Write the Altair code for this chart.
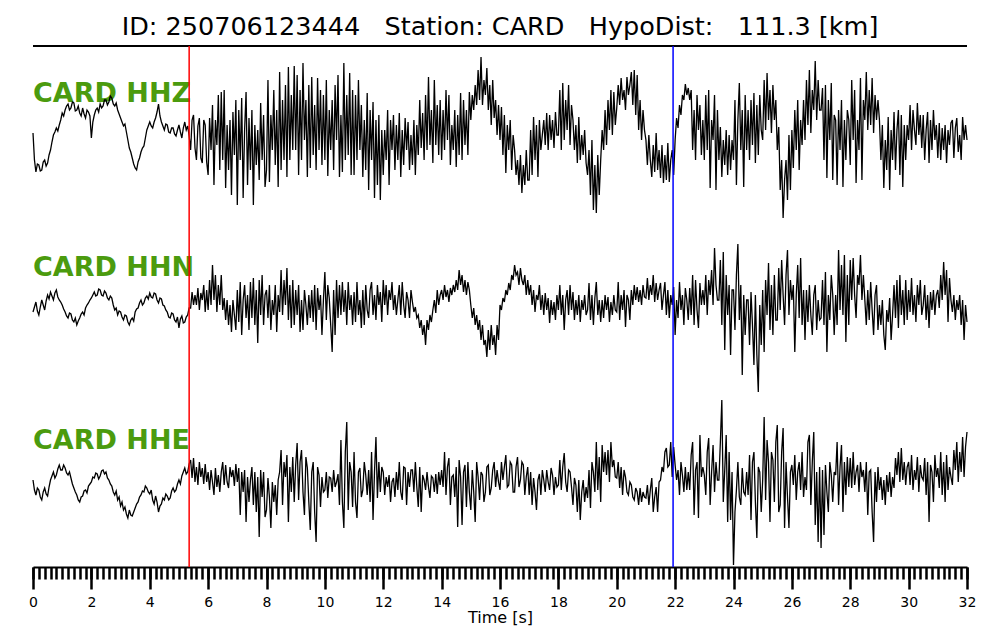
import altair as alt
import pandas as pd

NB = "\u00a0"
TITLE = f"ID: 250706123444{NB*3}Station: CARD{NB*3}HypoDist:{NB*3}111.3 [km]"
CHANNELS = ["CARD HHZ", "CARD HHN", "CARD HHE"]
SAMPLE_STEP = 0.05         # seconds between samples
P_PICK = 5.35              # s, red marker
S_PICK = 21.93             # s, blue marker
MAJOR_TICKS = list(range(0, 33, 2))
MINOR_TICKS = [round(i * 0.2, 1) for i in range(161)]
X_MAX = 32
Y_TOP = 521                # vertical extent of the stacked-trace axis
TRACE_BASE = [427, 262, 85]      # where each trace sits on the stacked axis
LABEL_LEVEL = [465, 291, 118]    # where each station label sits

# trace amplitudes (relative units), one sample every 0.05 s, 0 .. 32 s (one row per second)
HHZ = [
    7, -20, -32, -24, -25, -31, -30, -22, -20, -26, -23, -15, -10, -2, 5, 8, 12, 9, 15, 20,
    27, 24, 30, 34, 36, 30, 32, 38, 37, 29, 30, 34, 27, 24, 32, 26, 22, 30, 28, 24,
    2, 18, 25, 30, 32, 28, 36, 32, 34, 40, 40, 35, 38, 44, 42, 36, 34, 37, 30, 26,
    22, 18, 14, 16, 8, 0, -8, -12, -18, -24, -28, -30, -22, -18, -12, -8, -6, 2, 10, 14,
    18, 14, 12, 18, 22, 28, 36, 24, 18, 14, 10, 16, 15, 8, 7, 12, 12, 6, 4, 10,
    15, 8, 2, 12, 18, 10, 14, 4, -10, 20, 25, -8, -20, 14, 22, -18, -23, 20, 15, -22,
    -35, 22, -10, 35, -45, 20, -5, 45, -30, 48, -20, 50, -48, 15, -30, 20, -55, 28, -15, 40,
    -65, 30, -20, 42, -58, 10, 48, -45, 22, -30, 30, -65, 15, -25, 10, -40, 37, -20, 25, -47,
    -30, 60, -42, 25, -10, 50, -25, 30, -47, 68, -30, 40, -20, 55, -37, 73, -20, 45, -10, 74,
    -10, 65, -35, 50, -20, 77, 0, 40, -37, 55, -28, 63, -15, 35, -30, 62, -10, 50, -25, 45,
    -20, 60, -36, 30, -10, 40, -30, 55, 0, 65, -37, 25, -32, 77, -20, 45, -15, 67, -35, 50,
    -35, 45, -20, 60, -10, 35, -37, 20, -30, 47, -50, 30, -20, 38, -58, 20, -45, 25, -60, 10,
    -35, 10, -20, 30, -45, 20, -10, 25, -30, 15, -20, 27, -37, 10, -25, 22, -10, 18, -30, 5,
    -25, 20, -35, 15, -15, 40, -8, 27, -20, 45, -10, 63, -5, 30, -23, 60, -5, 35, -15, 40,
    -20, 30, -10, 50, 0, 45, -25, 15, -10, 30, -27, 25, -15, 47, -20, 40, -5, 30, -15, 48,
    20, 45, 30, 55, 35, 70, 40, 83, 35, 60, 45, 72, 30, 55, 15, 60, 22, 40, 5, 35,
    0, 33, -15, 25, -33, 15, -10, 20, -30, 5, -10, -35, -20, -45, -15, -53, -25, -45, -10, -40,
    -40, 10, -35, 23, -20, 15, -37, 20, -10, 5, 20, -5, 27, -10, 25, 0, 20, -8, 28, 5,
    5, 50, -10, 57, 0, 40, 10, 55, -5, 35, 20, -10, 15, -23, 23, -20, 5, -15, 10, -23,
    -35, -10, -55, 0, -70, -25, -73, -15, -55, -20, 10, -10, 30, -5, 40, 10, 50, 5, 48, 15,
    32, 55, 35, 62, 40, 50, 30, 63, 45, 55, 68, 35, 70, 25, 65, 10, 40, 0, 30, 10,
    0, -25, 5, -20, -37, -5, -32, 7, -30, -10, -38, -5, -43, -15, -40, -3, -42, -20, -10, -35,
    0, 22, 12, 35, 25, 45, 40, 56, 45, 52, 40, 50, -10, 30, -20, 45, 10, 35, -15, 20,
    -20, 45, -10, 50, -48, 20, 0, 45, -50, 30, -20, 13, -37, 0, -25, 10, -35, 5, -30, 0,
    -20, 40, -45, 20, 57, -10, 30, -47, 45, -10, 30, -20, 40, -5, 47, -23, 35, -15, 45, 10,
    0, 60, 10, 67, 20, 50, 7, 55, 20, 40, -10, 13, -50, -20, -78, -40, -20, -60, 5, -50,
    10, -28, 30, -10, 40, -30, 20, -5, 40, 0, 60, 15, 70, 7, 50, 30, 79, 20, 60, 30,
    30, 52, -20, 55, -38, 40, 0, 57, -40, 25, 20, -45, 30, -10, 40, -47, 20, -20, 30, 20,
    -25, 60, 0, 50, -43, 20, -10, 62, -40, 40, 20, 68, 10, 50, 15, 62, 7, 45, 20, 40,
    20, -20, 15, -48, 0, -30, 23, -50, 10, -20, 28, -30, 10, 30, -35, 25, -47, 15, -20, 15,
    0, 35, -10, 30, 10, -5, 37, 5, 25, -8, 25, -20, 10, 28, -23, 20, -10, 30, 0, 15,
    -18, 17, -20, 12, -10, 15, -23, 10, -5, 17, 20, -18, 12, 22, -12, 5, -20, 23, 0, 15,
    0,
]
HHN = [
    -7, -2, 3, -6, -10, -2, 5, 0, -5, 4, 10, 6, 13, 9, 5, 12, 15, 8, 5, 3,
    0, -4, -7, -11, -13, -8, -9, -15, -17, -13, -20, -16, -13, -9, -7, -10, -3, 0, 2, 5,
    7, 10, 13, 9, 10, 16, 15, 10, 9, 14, 12, 7, 5, 9, 7, 0, -5, -3, -10, -6,
    -7, -12, -15, -10, -11, -17, -20, -15, -13, -16, -7, -4, -3, 2, 5, 0, 2, 7, 9, 6,
    12, 8, 7, 12, 11, 5, 2, 7, 6, 0, -1, -5, -7, -12, -13, -8, -9, -15, -17, -12,
    -23, -14, -11, -18, -17, -12, -10, -3, -3, 13, 0, 10, 0, 17, -5, 12, 5, 20, -7, 15,
    -5, 25, 0, 40, 5, 30, -7, 20, 0, 30, -5, 7, -15, 5, -20, 0, -27, 5, -10, -25,
    15, -17, 23, -30, 5, 20, -13, 10, -25, 23, -13, 27, -20, 15, -38, 25, -10, 30, -20, 10,
    15, -13, 20, -25, 5, -10, 20, -27, 10, -7, 35, -10, 25, 0, 37, -15, 20, -23, 25, -20,
    15, -10, 20, -27, 5, -25, 15, 0, -20, 10, -13, 15, -17, 20, -25, 17, -5, 10, -30, 5,
    33, -15, 20, 7, -20, -47, 15, -30, 25, -13, 20, -10, 23, -7, 15, -20, 23, -5, 10, -20,
    13, -17, 23, -10, 5, -23, 15, -20, 20, -5, -13, 15, 23, -10, 10, -15, 20, 0, 13, -17,
    25, 0, 20, -10, 15, 5, 23, -5, 10, -10, 5, 20, -10, 23, 0, -13, 13, 5, -13, 15,
    3, -7, -2, -13, -10, -23, -15, -30, -20, -40, -15, -25, -10, -17, -5, 5, -8, 15, 0, 10,
    15, 5, 20, 8, 15, 3, 17, 10, 20, 13, 25, 15, 35, 20, 30, 13, 25, 10, 23, 15,
    0, -13, -3, -20, -10, -25, -15, -35, -20, -40, -35, -52, -25, -45, -20, -40, -30, -50, -20, -35,
    0, -5, 7, 3, 15, 10, 22, 15, 30, 25, 40, 30, 33, 20, 37, 25, 20, 30, 10, 25,
    10, 20, 0, 15, -7, 10, 5, 20, -5, 10, -10, 12, -5, 7, -18, 5, -10, 3, -15, 10,
    -5, 20, -10, 10, -25, 5, 15, -10, 20, -5, 13, -15, 5, -10, 10, -17, 5, -5, 10, -10,
    -5, 22, -15, 10, -20, 7, 23, -10, 5, -17, 5, -13, 10, -5, 8, -17, 3, -10, 10, -5,
    -7, 23, -15, 10, -5, 15, -22, 10, 5, -15, 15, 0, 20, 5, 18, 3, 15, 0, 20, 8,
    7, 27, 5, 20, 10, 30, 3, 22, 5, 15, 22, -5, 10, 23, -10, 15, -13, 10, 0, 18,
    -30, 5, -13, 23, -5, 10, -20, 17, 5, -15, 17, -10, 30, -20, 25, -5, -23, 22, 0, 15,
    0, 30, -10, 25, 10, 35, 0, 57, 20, 5, 5, 45, -20, 53, -45, 30, -10, 20, -50, 15,
    15, -25, 30, 61, -15, 20, -70, 10, -30, 5, 5, -40, 13, -20, -60, 10, -50, -87, 0, -40,
    15, -47, 25, -10, 42, -25, 20, -30, 30, -15, -15, 37, -5, 45, 10, -20, 30, 55, -10, 25,
    5, 20, -47, 10, 40, -13, 47, -20, 15, -35, 15, -17, 20, -10, -30, 10, 20, -25, 5, -15,
    -13, 25, -20, 33, -47, 10, -15, 30, 10, -30, 10, -20, 55, -5, 40, -10, 50, -37, 30, -20,
    45, 5, 47, 10, -13, 30, 20, 50, 5, 30, 5, -20, 15, -15, 23, -5, -30, 10, 20, -25,
    0, -20, 5, -30, -45, -5, -17, 7, -35, -10, 20, -13, 25, -23, 30, -10, 15, -20, 25, -15,
    15, -7, 27, -10, 10, -17, 20, 0, 25, -10, 0, 20, -15, 10, -23, 13, -5, 15, -10, 10,
    15, -3, 30, 5, 43, 10, 35, -17, 27, 5, -7, 10, -15, 5, -5, 10, -20, 5, -35, 0,
    -17,
]
HHE = [
    2, -8, -13, -6, -8, -15, -18, -10, -6, -12, -14, -5, 2, 6, 10, 4, 7, 13, 17, 12,
    12, 17, 14, 9, 7, 10, 4, -2, -6, -10, -13, -18, -20, -15, -14, -9, -8, -11, -4, -2,
    0, 5, 4, 9, 8, 3, 6, 11, 12, 8, 10, 4, 2, -2, -4, -10, -13, -9, -18, -15,
    -24, -20, -28, -25, -32, -36, -28, -33, -34, -30, -26, -22, -20, -15, -13, -9, -10, -4, -6, -10,
    -12, -8, -18, -22, -14, -20, -30, -24, -22, -16, -18, -12, -14, -18, -16, -9, -6, -10, -8, -2,
    2, -2, 6, 10, 14, 8, 10, 18, 22, 4, 24, 0, 15, -3, 20, 5, 14, -2, 18, 0,
    10, -8, 12, 0, -13, 14, -5, 7, -10, 10, 20, -3, 17, 0, -6, 15, 5, 12, -4, 18,
    0, 14, -33, 10, -10, 12, -40, 5, -20, 2, 15, -23, 10, -30, 5, -55, 12, -15, 10, -35,
    -28, 4, -15, -46, 0, -20, -3, -33, 2, 10, 32, -23, 20, 5, 27, -40, 15, -10, 25, -20,
    17, 39, -18, 20, 32, -10, -33, 25, 14, -20, -48, 10, 20, -30, -60, 15, 7, -25, 5, -10,
    -8, 10, -16, 5, 4, -10, 12, -5, 0, 8, -23, 42, -20, -46, 30, 60, -28, 20, 10, -25,
    30, -20, -36, 10, 14, -15, -8, 20, 7, -13, 12, -20, 30, -38, 10, 45, -16, 20, -10, 15,
    10, -13, 5, -5, 7, -20, 0, 4, -15, 10, -8, 20, -10, -18, 15, 14, -23, 10, -5, 12,
    12, -10, 20, -5, -25, 15, -30, 7, 2, -8, 10, -5, -16, 6, 4, -10, 8, -12, 10, -3,
    12, -5, 30, -13, 15, 24, -23, 5, 7, -15, 15, -45, 22, 5, -43, 10, 17, -25, 20, -10,
    -28, 12, -10, -40, 20, 5, -18, 10, 7, -20, -10, 15, 17, -13, -6, 12, 20, -5, 12, 0,
    -8, 20, 2, 15, 27, -5, -3, 20, 17, -10, -10, 15, 25, -5, 2, 20, 17, -13, 5, 15,
    -13, 10, -23, 4, -10, -28, 2, 8, -13, 12, 2, -10, 12, 0, -8, 14, 7, -13, 5, -5,
    -3, 22, -8, 15, 29, 0, -10, 12, 10, -5, -23, 4, -3, -30, 2, -38, -10, 2, -20, -5,
    -16, 12, -26, 20, 10, -10, 40, -8, 25, -20, 37, 10, 30, 7, 32, 0, 40, 15, 22, 5,
    4, 20, -6, 15, -13, 12, 5, -10, -13, 0, -3, -15, -18, -6, -10, -23, -6, -20, -10, -15,
    -16, -3, -23, -8, 4, -30, -15, -5, -30, 0, 2, 15, 10, 30, 34, 15, 17, 40, 5, 35,
    17, 2, 12, -13, 20, 7, -10, 15, -8, 10, -8, 27, 40, -33, 12, 20, -36, 47, 5, 15,
    7, -13, 30, 44, -23, 10, 37, -10, 20, 2, 2, 40, 82, -20, 12, 47, -40, 30, -38, 10,
    -83, -30, -8, 20, -15, -23, 14, -10, -13, 10, -13, 27, -38, 20, 30, -20, -56, 15, 10, -30,
    2, 65, -18, 42, 20, -40, 30, 22, -20, 40, 57, -30, -23, 30, 54, -46, 20, -15, -46, 10,
    17, -3, 27, -18, 10, 20, -8, 30, -15, 5, -8, 40, 47, -23, 20, 50, -43, 10, -60, 15,
    -66, 12, -53, 17, -10, -30, 20, 7, -20, 10, 7, 40, -23, 15, 37, -30, 20, -13, 25, -5,
    24, -6, 30, -3, 10, 17, -10, 20, 5, 12, -10, 20, -33, 10, 12, -30, -60, 10, -20, 15,
    -8, 5, -18, 2, -23, 7, -10, 10, -15, 5, -6, 24, 7, 30, 0, 34, 2, 20, -3, 15,
    20, -3, 27, -8, 12, 2, 25, -10, 17, 5, 2, 24, -13, 20, -40, 17, 10, -20, 27, 5,
    14, -6, 30, -13, 20, -20, 27, -8, 15, 5, -3, 32, 12, 40, 0, 30, 10, 45, 5, 35,
    50,
]

rows = []
for name, base, vals in zip(CHANNELS, TRACE_BASE, [HHZ, HHN, HHE]):
    for i, v in enumerate(vals):
        rows.append({"channel": name, "t": round(i * SAMPLE_STEP, 3), "amp": v, "y": base + v})
traces_df = pd.DataFrame(rows)
labels_df = pd.DataFrame({"channel": CHANNELS, "t": [0, 0, 0], "y": LABEL_LEVEL})
picks_df = pd.DataFrame({"t": [P_PICK, S_PICK], "phase": ["P", "S"]})
top_df = pd.DataFrame({"y": [Y_TOP]})

xs = alt.Scale(domain=[0, X_MAX], nice=False, zero=False)
ys = alt.Scale(domain=[0, Y_TOP], nice=False, zero=False)
FONT = "DejaVu Sans"

labels = alt.Chart(labels_df).mark_text(
    align="left", baseline="alphabetic", font=FONT, fontSize=27,
    fontWeight="bold", color="#4b9b0e"
).encode(
    x=alt.X("t:Q", scale=xs, axis=None),
    y=alt.Y("y:Q", scale=ys, axis=None),
    text="channel:N",
)

top_line = alt.Chart(top_df).mark_rule(color="black", strokeWidth=1.8).encode(
    y=alt.Y("y:Q", scale=ys, axis=None)
)

traces = alt.Chart(traces_df).mark_line(color="black", strokeWidth=1.3).encode(
    x=alt.X("t:Q", scale=xs, axis=alt.Axis(
        values=MAJOR_TICKS, orient="bottom", tickSize=22, tickWidth=2.5,
        tickColor="black", domainColor="black", domainWidth=2,
        labelFont=FONT, labelFontSize=14, labelColor="black", labelPadding=6,
        labelFlush=False, grid=False,
        title="Time [s]", titleFont=FONT, titleFontSize=16,
        titleFontWeight="normal", titleColor="black", titlePadding=0,
    )),
    y=alt.Y("y:Q", scale=ys, axis=None),
    detail="channel:N",
)

picks = alt.Chart(picks_df).mark_rule(strokeWidth=1.5).encode(
    x=alt.X("t:Q", scale=xs, axis=alt.Axis(
        values=MINOR_TICKS, orient="bottom", tickSize=12, tickWidth=2.5,
        tickColor="black", domain=False, labels=False, grid=False, title="",
    )),
    color=alt.Color("phase:N", scale=alt.Scale(domain=["P", "S"], range=["#ff0000", "#0000ff"]), legend=None),
)

chart = alt.layer(labels, top_line, traces, picks).resolve_axis(
    x="independent"
).properties(
    width=934, height=521,
    background="white",
    autosize=alt.AutoSizeParams(type="none"),
    padding={"left": 25, "top": 38, "right": 25, "bottom": 60},
    title=alt.TitleParams(TITLE, font=FONT, fontSize=25.5, fontWeight="normal",
                          color="black", anchor="middle", offset=5),
).configure_view(strokeWidth=0, stroke="transparent")

chart.save("out.html", embed_options={"renderer": "svg", "actions": False})
